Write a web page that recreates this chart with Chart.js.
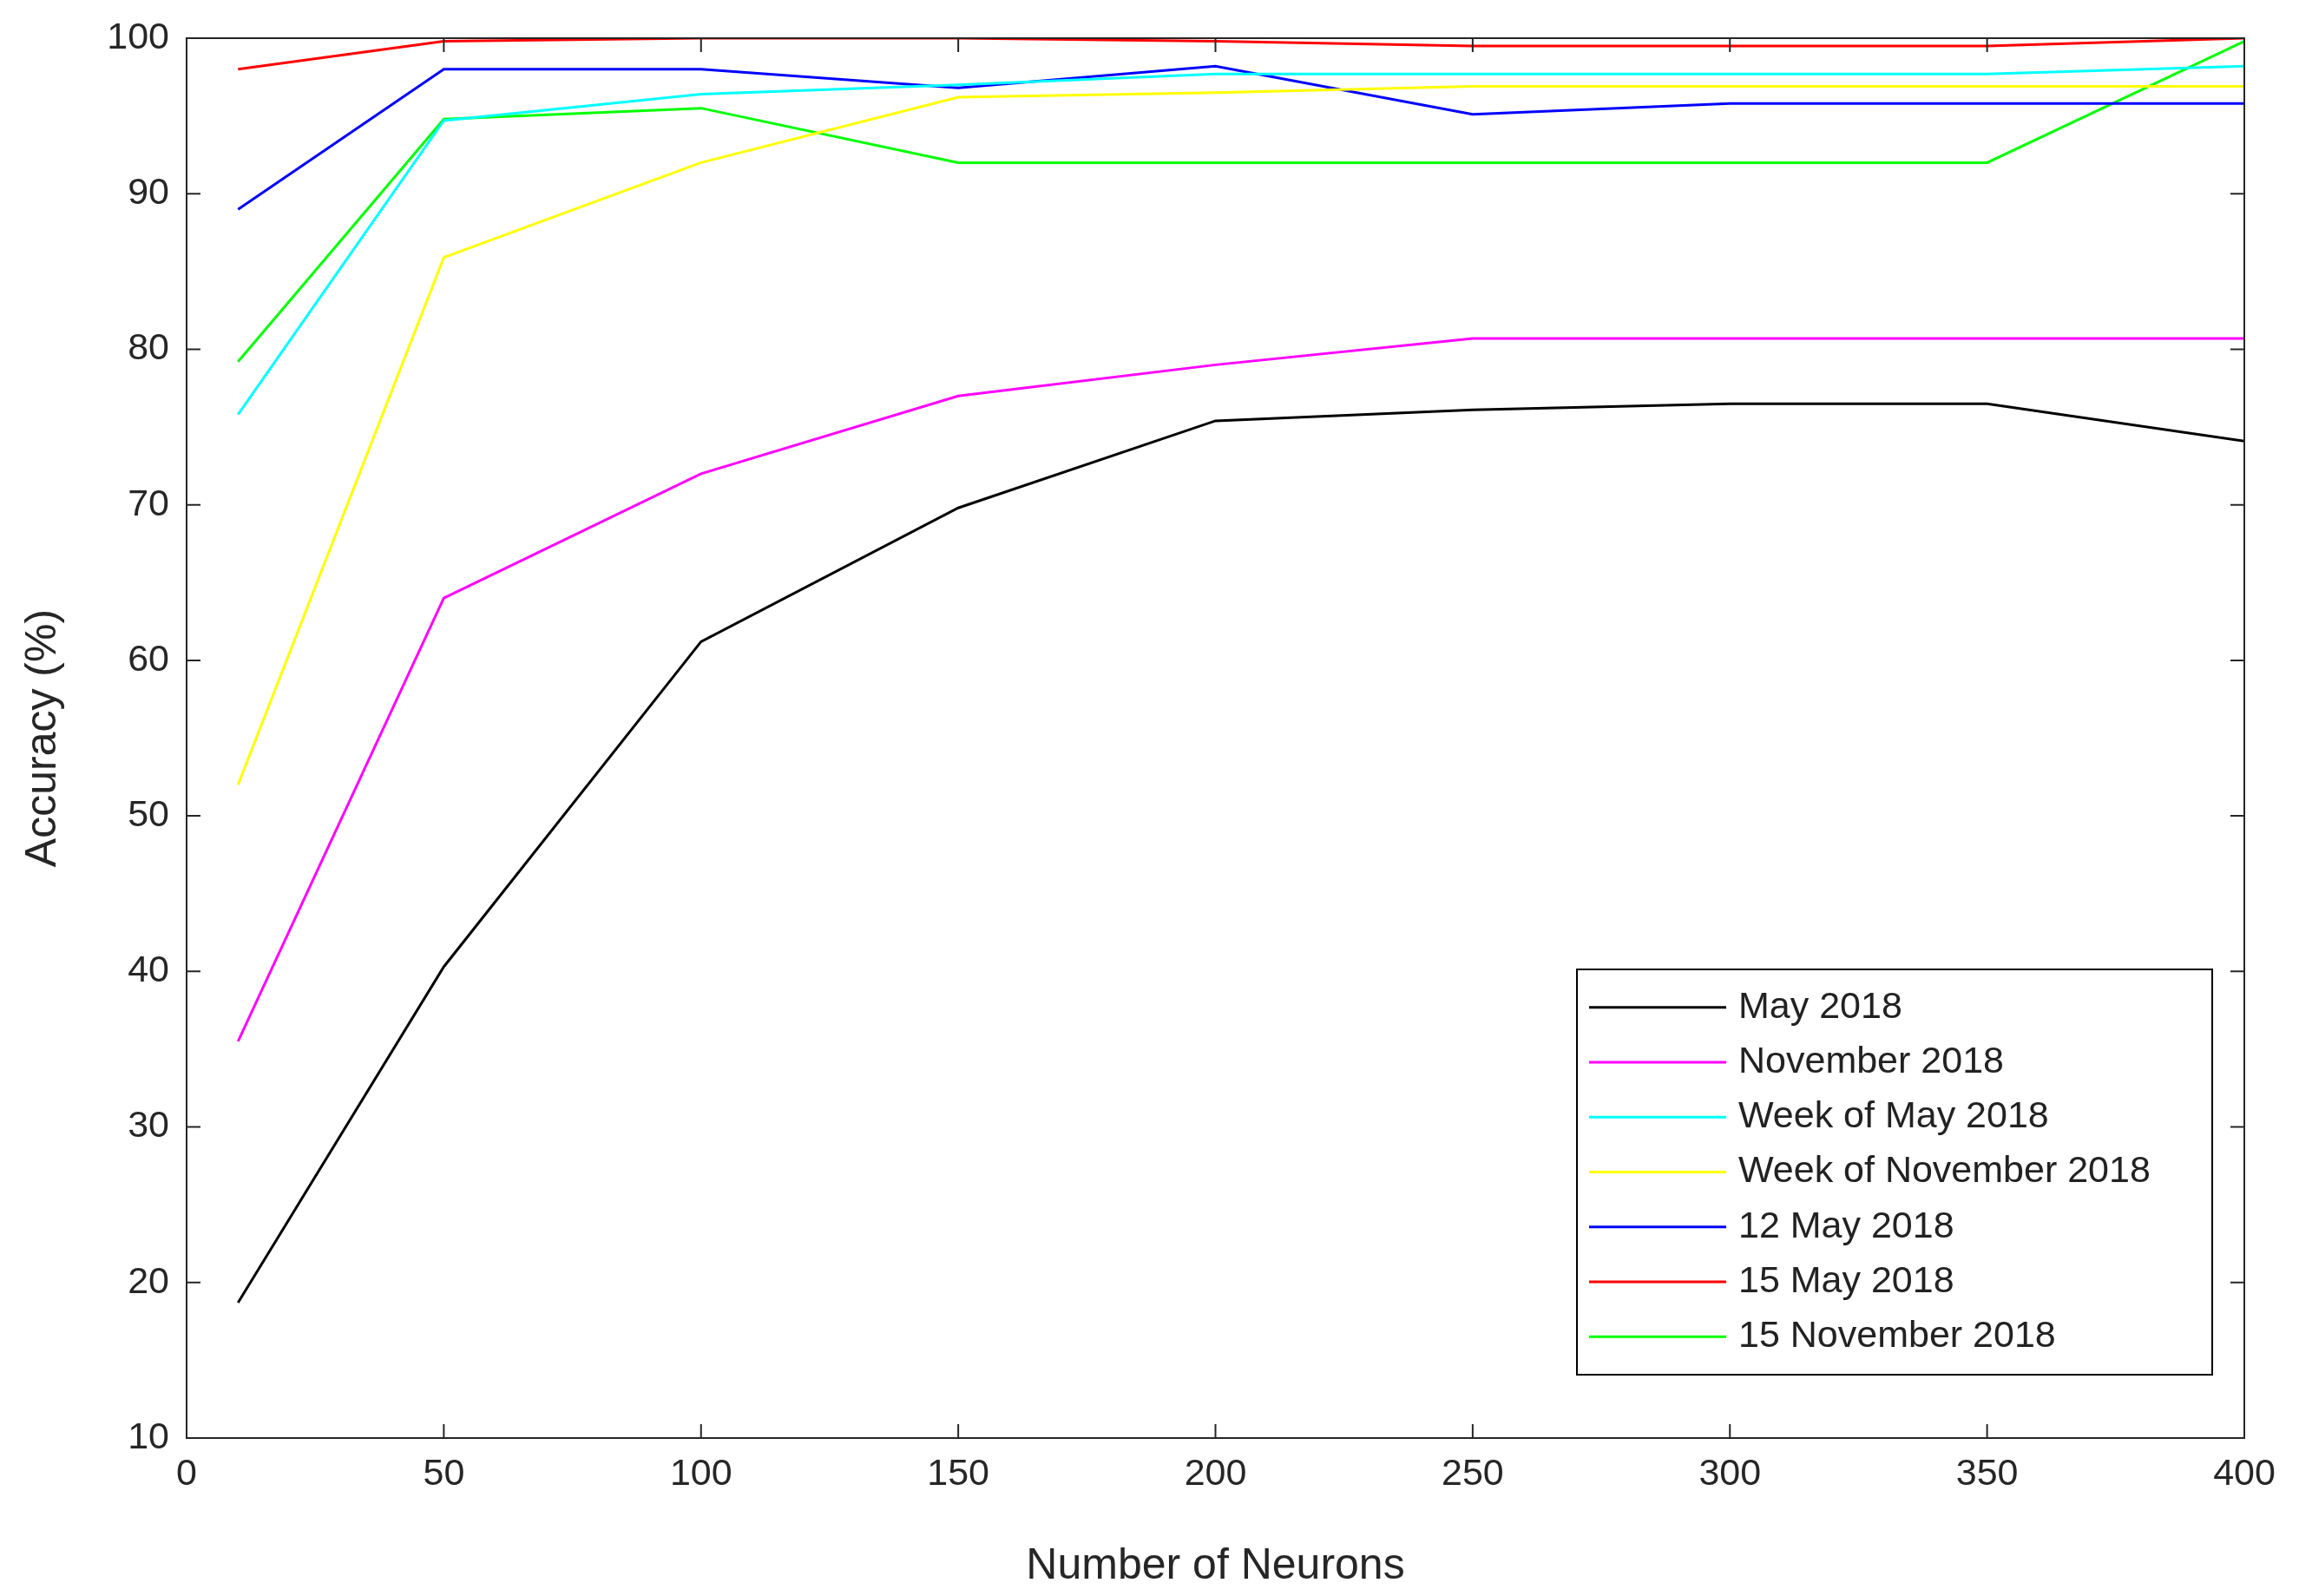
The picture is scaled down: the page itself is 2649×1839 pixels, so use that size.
<!DOCTYPE html>
<html><head><meta charset="utf-8">
<script src="https://cdn.jsdelivr.net/npm/chart.js@4/dist/chart.umd.min.js"></script>
<style>html,body{margin:0;padding:0;background:#fff}</style>
</head><body>
<canvas id="c" width="2649" height="1839"></canvas>
<script>
const neurons = [10, 50, 100, 150, 200, 250, 300, 350, 400];
const may2018 = [18.7, 40.3, 61.2, 69.8, 75.4, 76.1, 76.5, 76.5, 74.1];
const nov2018 = [35.5, 64, 72, 77, 79, 80.7, 80.7, 80.7, 80.7];
const weekMay = [75.8, 94.7, 96.4, 97, 97.7, 97.7, 97.7, 97.7, 98.2];
const weekNov = [52, 85.9, 92, 96.2, 96.5, 96.9, 96.9, 96.9, 96.9];
const may12 = [89, 98, 98, 96.8, 98.2, 95.1, 95.8, 95.8, 95.8];
const may15 = [98, 99.8, 100, 100, 99.8, 99.5, 99.5, 99.5, 100];
const nov15 = [79.2, 94.8, 95.5, 92, 92, 92, 92, 92, 99.8];
const xTicks = [0, 50, 100, 150, 200, 250, 300, 350, 400];
const yTicks = [10, 20, 30, 40, 50, 60, 70, 80, 90, 100];

const series = [
  ['May 2018', may2018, '#000000'],
  ['November 2018', nov2018, '#ff00ff'],
  ['Week of May 2018', weekMay, '#00ffff'],
  ['Week of November 2018', weekNov, '#ffff00'],
  ['12 May 2018', may12, '#0000ff'],
  ['15 May 2018', may15, '#ff0000'],
  ['15 November 2018', nov15, '#00ff00']
];
const FONT = 'Liberation Sans, Arial, sans-serif';

const framePlugin = {
  id: 'frame',
  afterDraw(chart) {
    const {ctx, chartArea: a, scales: {x, y}} = chart;
    ctx.save();
    ctx.strokeStyle = '#262626';
    ctx.lineWidth = 2;
    ctx.strokeRect(a.left, a.top, a.right - a.left, a.bottom - a.top);
    const tl = 16;
    ctx.beginPath();
    xTicks.forEach(v => { const px = x.getPixelForValue(v);
      ctx.moveTo(px, a.bottom); ctx.lineTo(px, a.bottom - tl);
      ctx.moveTo(px, a.top); ctx.lineTo(px, a.top + tl); });
    yTicks.forEach(v => { const py = y.getPixelForValue(v);
      ctx.moveTo(a.left, py); ctx.lineTo(a.left + tl, py);
      ctx.moveTo(a.right, py); ctx.lineTo(a.right - tl, py); });
    ctx.stroke();
    // legend
    const L = 1817, T = 1117, R = 2549, B = 1584;
    ctx.fillStyle = '#fff';
    ctx.fillRect(L, T, R - L, B - T);
    ctx.strokeStyle = '#000';
    ctx.lineWidth = 2;
    ctx.strokeRect(L, T, R - L, B - T);
    const n = chart.data.datasets.length;
    const rowH = (B - T - 24) / n;
    ctx.font = '43px ' + FONT;
    ctx.textBaseline = 'middle';
    chart.data.datasets.forEach((ds, i) => {
      const cy = T + 12 + rowH * (i + 0.5);
      ctx.strokeStyle = ds.borderColor;
      ctx.lineWidth = 3;
      ctx.beginPath(); ctx.moveTo(L + 14, cy); ctx.lineTo(L + 172, cy); ctx.stroke();
      ctx.fillStyle = '#222';
      ctx.fillText(ds.label, L + 186, cy);
    });
    ctx.restore();
  }
};

new Chart(document.getElementById('c'), {
  type: 'line',
  data: {
    datasets: series.map(([label, vals, color]) => ({
      label, borderColor: color, backgroundColor: color, borderWidth: 3,
      pointRadius: 0, tension: 0, fill: false,
      data: neurons.map((n, i) => ({x: n, y: vals[i]}))
    }))
  },
  options: {
    responsive: false, animation: false, devicePixelRatio: 1,
    layout: {padding: {top: 44, right: 63, left: 0, bottom: 0}},
    plugins: {legend: {display: false}, tooltip: {enabled: false}},
    scales: {
      x: {
        type: 'linear', min: 0, max: 400,
        afterBuildTicks: s => { s.ticks = xTicks.map(v => ({value: v})); },
        afterFit: s => { s.height = 182; },
        grid: {display: false}, border: {display: false},
        ticks: {color: '#262626', font: {size: 43, family: FONT}, padding: 8, maxRotation: 0},
        title: {display: true, text: 'Number of Neurons', color: '#262626', font: {size: 50, family: FONT}, padding: {top: 0}}
      },
      y: {
        min: 10, max: 100,
        afterBuildTicks: s => { s.ticks = yTicks.map(v => ({value: v})); },
        afterFit: s => { s.width = 215; },
        grid: {display: false}, border: {display: false},
        ticks: {color: '#262626', font: {size: 43, family: FONT}, padding: 12},
        title: {display: true, text: 'Accuracy (%)', color: '#262626', font: {size: 50, family: FONT}, padding: {top: 20, bottom: 10}}
      }
    }
  },
  plugins: [framePlugin]
});
</script>
</body></html>
